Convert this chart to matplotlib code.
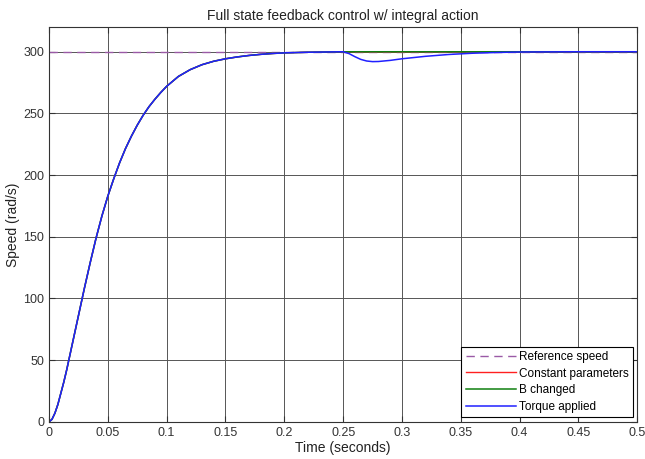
import numpy as np
import matplotlib.pyplot as plt

plt.rcParams['font.family'] = ['Liberation Sans', 'DejaVu Sans']

# speed response (time in s, speed in rad/s)
t = [0, 0.0025, 0.005, 0.0075, 0.01, 0.0125, 0.015, 0.02, 0.025, 0.03,
     0.035, 0.04, 0.045, 0.05, 0.055, 0.06, 0.065, 0.07, 0.075, 0.08,
     0.085, 0.09, 0.095, 0.1, 0.11, 0.12, 0.13, 0.14, 0.15, 0.16, 0.17,
     0.18, 0.19, 0.2, 0.22, 0.25,
     0.255, 0.26, 0.265, 0.27, 0.275, 0.28, 0.29, 0.3, 0.32, 0.34, 0.36,
     0.38, 0.4, 0.45, 0.5]
rise = [0, 2, 7, 14, 23, 32, 42, 64, 86, 108,
        129, 149, 167, 183, 197, 210, 221.5, 231.5, 240.5, 248.5,
        255.5, 261.5, 267, 272, 280, 285.5, 289.5, 292.3, 294.3, 295.8, 297,
        297.9, 298.6, 299.1, 299.6, 300]
dip = [298.5, 296, 293.8, 292.5, 292, 292.1, 293, 294.3, 296.3, 297.8,
       298.8, 299.4, 299.8, 300, 300]
speed_const = rise + [300] * len(dip)
speed_b = rise + [300] * len(dip)
speed_torque = rise + dip
ref_speed = 300

fig = plt.figure(figsize=(6.45, 4.59), dpi=100)
ax = fig.add_axes([0.076, 0.081, 0.912, 0.86])

ax.plot([0, 0.5], [ref_speed, ref_speed], '--', color='#9a5aa6', lw=1.0,
        dashes=(6, 4), label='Reference speed')
ax.plot(t, speed_const, color='#ff2020', lw=1.0, label='Constant parameters')
ax.plot(t, speed_b, color='#108010', lw=1.1, label='B changed')
ax.plot(t, speed_torque, color='#2020ff', lw=1.1, label='Torque applied')

ax.set_xlim(0, 0.5)
ax.set_ylim(0, 320)
ax.set_xticks(np.arange(0, 0.51, 0.05))
ax.set_xticklabels(['0', '0.05', '0.1', '0.15', '0.2', '0.25', '0.3',
                    '0.35', '0.4', '0.45', '0.5'])
ax.set_yticks(np.arange(0, 301, 50))
ax.grid(True, color='#555555', lw=0.7)
ax.tick_params(direction='in', top=True, right=True, labelsize=9,
               colors='#333333', length=4)
for s in ax.spines.values():
    s.set_color('#333333')
    s.set_linewidth(0.8)

ax.set_title('Full state feedback control w/ integral action', fontsize=10,
             color='#222222', pad=5)
ax.set_xlabel('Time (seconds)', fontsize=10, color='#222222', labelpad=2)
ax.set_ylabel('Speed (rad/s)', fontsize=10, color='#222222', labelpad=2)

leg = ax.legend(loc='lower right', fontsize=8.5, fancybox=False,
                framealpha=1, edgecolor='black', borderpad=0.35,
                labelspacing=0.4, handlelength=4.3, handletextpad=0.2,
                borderaxespad=0.4)
leg.get_frame().set_linewidth(0.8)

fig.savefig('out.png', dpi=100)
